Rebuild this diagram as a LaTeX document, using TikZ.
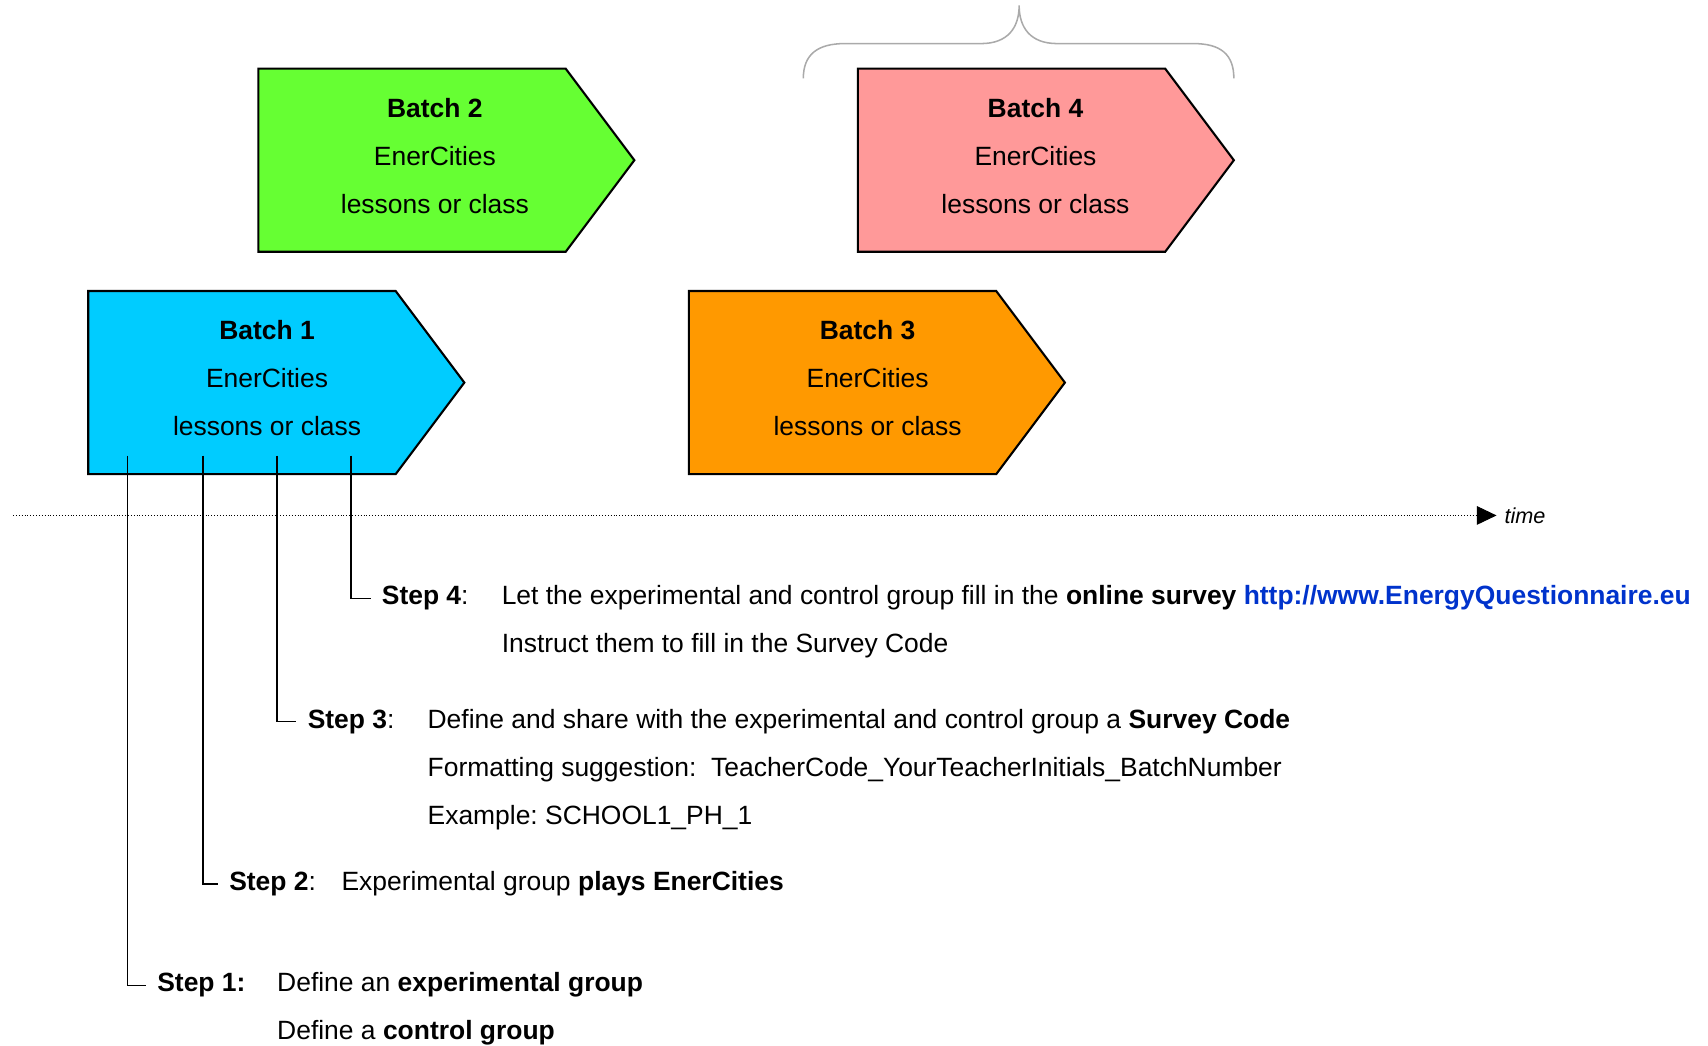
\documentclass[tikz,border=0pt]{standalone}
\usepackage{fontspec}
\setmainfont{Liberation Sans}
\usetikzlibrary{arrows.meta}
\frenchspacing
\definecolor{batchone}{HTML}{00CCFF}
\definecolor{batchtwo}{HTML}{66FF33}
\definecolor{batchthree}{HTML}{FF9900}
\definecolor{batchfour}{HTML}{FF9999}
\definecolor{urlblue}{HTML}{0033CC}
\definecolor{bracegray}{HTML}{AAAAAA}
\tikzset{
	batch/.style={draw, line width=1.1pt, line join=miter},
	batchtext/.style={anchor=base, inner sep=0pt, font=\fontsize{13.8}{16}\selectfont},
	steplabel/.style={anchor=base west, inner xsep=0.2cm, inner ysep=0pt, font=\fontsize{13.8}{16}\selectfont},
	steptext/.style={anchor=base west, inner sep=0pt, font=\fontsize{13.8}{16}\selectfont},
	stepline/.style={line width=0.8pt},
}
\begin{document}
\begin{tikzpicture}
	\useasboundingbox (0,0) rectangle (31.34,-19.18);
	
	% the four batches
	\draw[batch, fill=batchtwo]   ( 4.74,-1.26) -- ++(5.64,0) -- ++(1.26,-1.68) -- ++(-1.26,-1.68) -- ++(-5.64,0) -- cycle;
	\draw[batch, fill=batchfour]  (15.74,-1.26) -- ++(5.64,0) -- ++(1.26,-1.68) -- ++(-1.26,-1.68) -- ++(-5.64,0) -- cycle;
	\draw[batch, fill=batchone]   ( 1.62,-5.34) -- ++(5.64,0) -- ++(1.26,-1.68) -- ++(-1.26,-1.68) -- ++(-5.64,0) -- cycle;
	\draw[batch, fill=batchthree] (12.64,-5.34) -- ++(5.64,0) -- ++(1.26,-1.68) -- ++(-1.26,-1.68) -- ++(-5.64,0) -- cycle;
	
	\draw ( 7.98,-2.15) node[batchtext] (b2a) {\textbf{Batch 2}};
	\draw ( 7.98,-3.03) node[batchtext] (b2b) {EnerCities};
	\draw ( 7.98,-3.91) node[batchtext] (b2c) {lessons or class};
	
	\draw (19.00,-2.15) node[batchtext] (b4a) {\textbf{Batch 4}};
	\draw (19.00,-3.03) node[batchtext] (b4b) {EnerCities};
	\draw (19.00,-3.91) node[batchtext] (b4c) {lessons or class};
	
	\draw ( 4.90,-6.23) node[batchtext] (b1a) {\textbf{Batch 1}};
	\draw ( 4.90,-7.11) node[batchtext] (b1b) {EnerCities};
	\draw ( 4.90,-7.99) node[batchtext] (b1c) {lessons or class};
	
	\draw (15.92,-6.23) node[batchtext] (b3a) {\textbf{Batch 3}};
	\draw (15.92,-7.11) node[batchtext] (b3b) {EnerCities};
	\draw (15.92,-7.99) node[batchtext] (b3c) {lessons or class};
	
	% brace over batch 4
	\draw[bracegray, line width=0.8pt] (14.74,-1.44) .. controls (14.74,-1.0) and (15.0,-0.8) .. (15.5,-0.8)
		-- (18.0,-0.8) .. controls (18.5,-0.8) and (18.7,-0.5) .. (18.7,-0.1)
		.. controls (18.7,-0.5) and (18.9,-0.8) .. (19.4,-0.8)
		-- (21.9,-0.8) .. controls (22.4,-0.8) and (22.64,-1.0) .. (22.64,-1.44);
	
	% time line
	\coordinate (t0) at (0.24,-9.44);
	\draw (27.46,-9.60) node[anchor=base west, inner xsep=0.14cm, inner ysep=0pt, font=\fontsize{11.3}{13}\selectfont\itshape] (time) {time};
	\draw[densely dotted, line width=0.5pt, -{Triangle[length=0.36cm, width=0.34cm]}] (time.west -| t0) -- (time.west);
	
	% steps
	\draw ( 6.80,-11.10) node[steplabel] (step4) {\textbf{Step 4}:};
	\draw ( 9.20,-11.10) node[steptext] (step4a) {Let the experimental and control group fill in the \textbf{online survey} \textcolor{urlblue}{\textbf{http://www.EnergyQuestionnaire.eu}}};
	\draw ( 9.20,-11.98) node[steptext] (step4b) {Instruct them to fill in the Survey Code};
	
	\draw ( 5.44,-13.36) node[steplabel] (step3) {\textbf{Step 3}:};
	\draw ( 7.84,-13.36) node[steptext] (step3a) {Define and share with the experimental and control group a \textbf{Survey Code}};
	\draw ( 7.84,-14.24) node[steptext] (step3b) {Formatting suggestion:\ \ TeacherCode\_YourTeacherInitials\_BatchNumber};
	\draw ( 7.84,-15.12) node[steptext] (step3c) {Example: SCHOOL1\_PH\_1};
	
	\draw ( 4.00,-16.34) node[steplabel] (step2) {\textbf{Step 2}:};
	\draw ( 6.26,-16.34) node[steptext] (step2a) {Experimental group \textbf{plays EnerCities}};
	
	\draw ( 2.68,-18.20) node[steplabel] (step1) {\textbf{Step 1:}};
	\draw ( 5.08,-18.20) node[steptext] (step1a) {Define an \textbf{experimental group}};
	\draw ( 5.08,-19.08) node[steptext] (step1b) {Define a \textbf{control group}};
	
	% connectors from batch 1 to the steps
	\coordinate (s1) at (2.34,-8.36);
	\coordinate (s2) at (3.72,-8.36);
	\coordinate (s3) at (5.08,-8.36);
	\coordinate (s4) at (6.44,-8.36);
	\draw[stepline] (s1) |- (step1.west);
	\draw[stepline] (s2) |- (step2.west);
	\draw[stepline] (s3) |- (step3.west);
	\draw[stepline] (s4) |- (step4.west);
\end{tikzpicture}
\end{document}
